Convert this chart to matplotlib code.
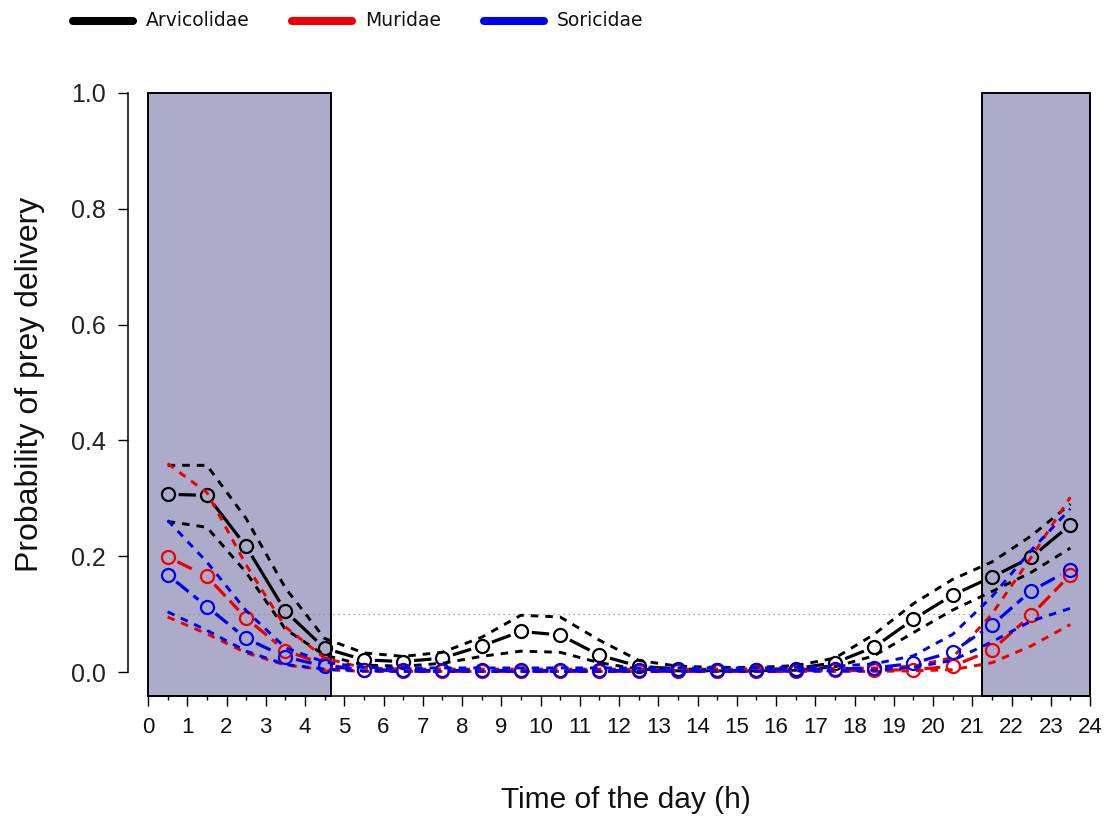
import matplotlib
matplotlib.use("Agg")
import matplotlib.pyplot as plt
from matplotlib.patches import Rectangle
from matplotlib.lines import Line2D
import numpy as np

# ---------------- data ----------------
hours = [0.5, 1.5, 2.5, 3.5, 4.5, 5.5, 6.5, 7.5, 8.5, 9.5, 10.5, 11.5,
         12.5, 13.5, 14.5, 15.5, 16.5, 17.5, 18.5, 19.5, 20.5, 21.5, 22.5, 23.5]

arv_mean = [0.307, 0.305, 0.217, 0.105, 0.041, 0.021, 0.018, 0.024, 0.045, 0.070, 0.064, 0.029,
            0.010, 0.005, 0.004, 0.004, 0.006, 0.016, 0.043, 0.091, 0.133, 0.164, 0.198, 0.254]
arv_upper = [0.357, 0.357, 0.265, 0.145, 0.058, 0.033, 0.027, 0.034, 0.060, 0.098, 0.095, 0.055,
             0.020, 0.010, 0.008, 0.008, 0.011, 0.024, 0.065, 0.118, 0.160, 0.190, 0.235, 0.290]
arv_lower = [0.260, 0.250, 0.172, 0.074, 0.029, 0.012, 0.010, 0.015, 0.027, 0.036, 0.034, 0.016,
             0.005, 0.002, 0.002, 0.002, 0.003, 0.009, 0.028, 0.068, 0.107, 0.139, 0.172, 0.214]

mur_mean = [0.199, 0.165, 0.093, 0.037, 0.013, 0.003, 0.002, 0.002, 0.002, 0.002, 0.002, 0.002,
            0.002, 0.002, 0.002, 0.002, 0.002, 0.003, 0.003, 0.004, 0.010, 0.038, 0.098, 0.168]
mur_upper = [0.360, 0.310, 0.185, 0.078, 0.024, 0.007, 0.005, 0.005, 0.005, 0.005, 0.005, 0.005,
             0.005, 0.005, 0.005, 0.005, 0.005, 0.006, 0.007, 0.010, 0.025, 0.100, 0.198, 0.302]
mur_lower = [0.095, 0.066, 0.033, 0.012, 0.004, 0.001, 0.001, 0.001, 0.001, 0.001, 0.001, 0.001,
             0.001, 0.001, 0.001, 0.001, 0.001, 0.001, 0.001, 0.002, 0.004, 0.016, 0.045, 0.082]

sor_mean = [0.168, 0.113, 0.058, 0.026, 0.010, 0.004, 0.003, 0.003, 0.003, 0.003, 0.003, 0.003,
            0.003, 0.003, 0.003, 0.003, 0.004, 0.005, 0.007, 0.015, 0.035, 0.081, 0.140, 0.177]
sor_upper = [0.262, 0.190, 0.106, 0.042, 0.017, 0.008, 0.007, 0.007, 0.007, 0.007, 0.007, 0.007,
             0.007, 0.007, 0.007, 0.007, 0.008, 0.010, 0.014, 0.028, 0.065, 0.130, 0.210, 0.282]
sor_lower = [0.104, 0.072, 0.036, 0.013, 0.005, 0.002, 0.001, 0.001, 0.001, 0.001, 0.001, 0.001,
             0.001, 0.001, 0.001, 0.001, 0.002, 0.002, 0.003, 0.008, 0.020, 0.052, 0.088, 0.110]

species = ["Arvicolidae", "Muridae", "Soricidae"]
colors = ["#000000", "#ee0000", "#0000ee"]

night_spans = [(0.0, 4.65), (21.25, 24.0)]
ref_level = 0.1
x_ticks = list(range(25))
y_ticks = [0.0, 0.2, 0.4, 0.6, 0.8, 1.0]

# ---------------- layout ----------------
W, H = 1107, 818
fig = plt.figure(figsize=(W / 100, H / 100), dpi=100)

def fx(px):
    return px / W

def fy(py):
    return 1 - py / H

X0, PXH = 148.0, 39.25   # pixel of x=0, pixels per hour
Y0, PXU = 672.0, 579.0   # pixel of y=0, pixels per unit
ax_l, ax_r, ax_t, ax_b = 128, 1100, 70, 696
ax = fig.add_axes([fx(ax_l), fy(ax_b), (ax_r - ax_l) / W, (ax_b - ax_t) / H])
ax.set_xlim((ax_l - X0) / PXH, (ax_r - X0) / PXH)
ax.set_ylim((Y0 - ax_b) / PXU, (Y0 - ax_t) / PXU)
ymin = ax.get_ylim()[0]

for s in ["top", "right"]:
    ax.spines[s].set_visible(False)
ax.spines["left"].set_bounds(0, 1)
ax.spines["bottom"].set_bounds(0, 24)
for s in ["left", "bottom"]:
    ax.spines[s].set_linewidth(1.1)

ax.set_xticks(x_ticks)
ax.set_xticks(hours, minor=True)
ax.set_xticklabels([str(t) for t in x_ticks], fontsize=16, family="Liberation Sans",
                   color="#111111")
ax.set_yticks(y_ticks)
ax.set_yticklabels([f"{v:.1f}" for v in y_ticks], fontsize=18, family="Liberation Sans",
                   color="#222222")
ax.tick_params(axis="x", which="major", length=7.2, width=1.0, pad=8)
ax.tick_params(axis="x", which="minor", length=3.0, width=1.0)
ax.tick_params(axis="y", which="major", length=7.2, width=1.0, pad=9)

# night rectangles
for a, b in night_spans:
    ax.add_patch(Rectangle((a, ymin), b - a, 1.0 - ymin, facecolor="#acacca",
                           edgecolor="black", linewidth=1.4, zorder=1, clip_on=False))

# reference dotted line
ax.hlines(ref_level, hours[0], hours[-1], colors="#8a8a8a", linewidth=0.9,
          linestyles=(0, (1.0, 3.0)), zorder=2)

ci_dash = (0, (2.6, 2.4))
mean_styles = ["-", (0, (5.0, 2.0)), (0, (5.0, 2.0))]
ci_lw = 2.1
mean_lw = 2.3

def draw_b(x, y, color, ls, lw, gap_px, z):
    trans = ax.transData
    pts = trans.transform(np.column_stack([x, y]))
    inv = trans.inverted()
    for i in range(len(x) - 1):
        p, q = pts[i], pts[i + 1]
        d = q - p
        L = np.hypot(*d)
        if L > 2 * gap_px + 1:
            a = p + d * gap_px / L
            b = q - d * gap_px / L
            seg = inv.transform(np.vstack([a, b]))
            ax.plot(seg[:, 0], seg[:, 1], color=color, linestyle=ls, linewidth=lw,
                    solid_capstyle="butt", dash_capstyle="butt", zorder=z)
    ax.plot(x, y, linestyle="none", marker="o", markersize=9.4, markerfacecolor="none",
            markeredgecolor=color, markeredgewidth=1.6, zorder=z + 0.1)

series = [(arv_mean, arv_upper, arv_lower), (mur_mean, mur_upper, mur_lower),
          (sor_mean, sor_upper, sor_lower)]
for k, (m, u, lo) in enumerate(series):
    z = 3 + k
    ax.plot(hours, u, color=colors[k], linestyle=ci_dash, linewidth=ci_lw,
            dash_capstyle="butt", zorder=z)
    ax.plot(hours, lo, color=colors[k], linestyle=ci_dash, linewidth=ci_lw,
            dash_capstyle="butt", zorder=z)
    draw_b(hours, m, colors[k], mean_styles[k], mean_lw, 11, z)

# axis labels
fig.text(fx(30), fy(384), "Probability of prey delivery", rotation=90, ha="center",
         va="center", fontsize=23, family="Liberation Sans", color="#111111")
fig.text(fx(626), fy(800), "Time of the day (h)", ha="center", va="center",
         fontsize=21.5, family="Liberation Sans", color="#111111")

# legend at top
leg_x = [69, 288, 480]
leg_y = 20.5
for k, name in enumerate(species):
    x1 = leg_x[k] + 4
    x2 = leg_x[k] + 64
    fig.add_artist(Line2D([fx(x1), fx(x2)], [fy(leg_y), fy(leg_y)], color=colors[k],
                          linewidth=5.8, solid_capstyle="round", transform=fig.transFigure))
    fig.text(fx(leg_x[k] + 77), fy(leg_y), name, ha="left", va="center", fontsize=13.5,
             family="DejaVu Sans", color="#111111")

fig.savefig("out.png", dpi=100)
